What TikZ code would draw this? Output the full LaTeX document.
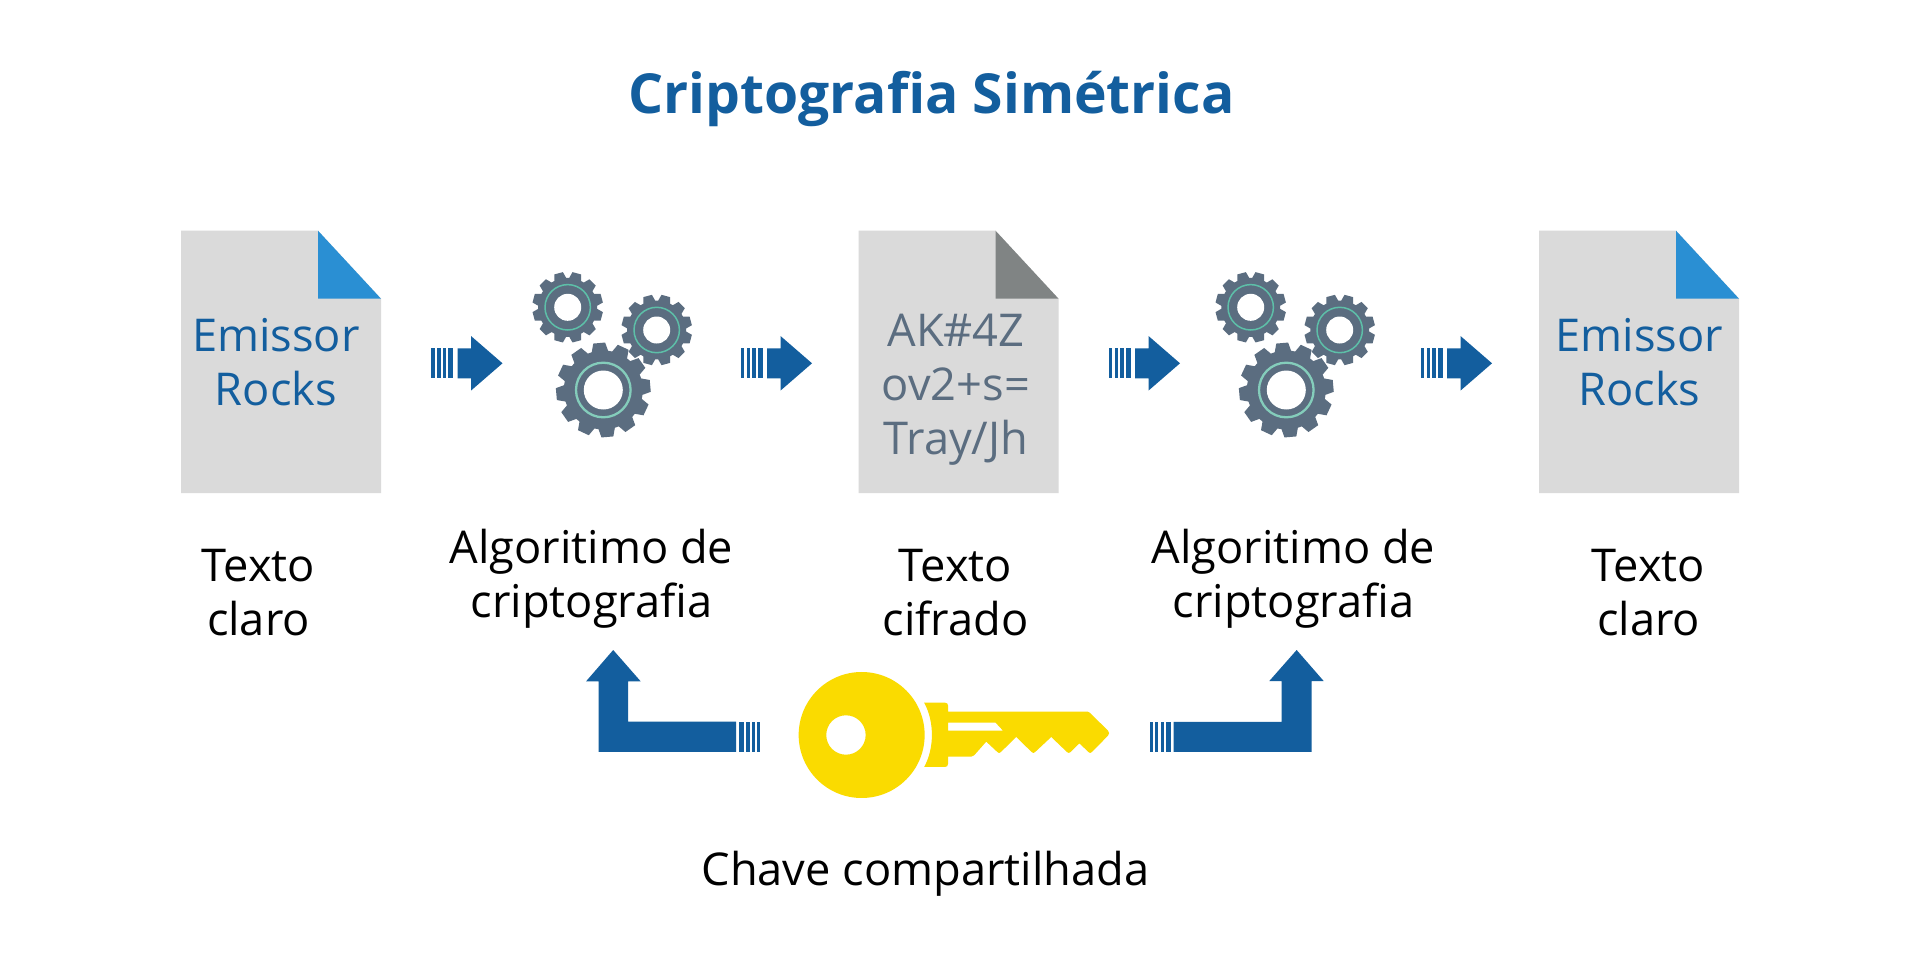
\documentclass[tikz,border=0pt]{standalone}
\usepackage{fontspec}
\setmainfont{Open Sans}
\definecolor{blueA}{HTML}{135E9E}
\definecolor{sky}{HTML}{2A8FD3}
\definecolor{paper}{HTML}{DADADA}
\definecolor{foldgray}{HTML}{808484}
\definecolor{slate}{HTML}{5B6D80}
\definecolor{ringA}{HTML}{5DBFA8}
\definecolor{ringB}{HTML}{84CDBB}
\definecolor{keyyellow}{HTML}{FADB00}
\tikzset{
  x=1pt,y=-1pt,
  lbl/.style={font=\fontsize{45.2}{54}\selectfont,align=center,inner sep=0pt,text=black},
  doctext/.style={font=\fontsize{45.2}{54}\selectfont,align=center,inner sep=0pt},
  arrowfill/.style={fill=blueA,draw=none},
}
% document sheet: x y foldcolor
\newcommand{\sheet}[3]{%
  \fill[paper] (#1,#2) -- ++(137,0) -- ++(63,68) -- ++(0,194.5) -- ++(-200,0) -- cycle;
  \fill[#3] (#1+137,#2) -- (#1+200,#2+68) -- (#1+137,#2+68) -- cycle;
}
% striped block arrow: x (stripes left) y (centre)
\newcommand{\stripearrow}[2]{%
  \begin{scope}[shift={(#1,#2)}]
    \fill[arrowfill] (0,-15) rectangle (3.8,15);
    \fill[arrowfill] (6,-15) rectangle (9.5,15);
    \fill[arrowfill] (11.7,-15) rectangle (15.2,15);
    \fill[arrowfill] (17.4,-15) rectangle (22,15);
    \fill[arrowfill] (26.5,-15) -- (40,-15) -- (40,-27.3) -- (71.5,0) -- (40,27.3) -- (40,15) -- (26.5,15) -- cycle;
  \end{scope}
}
% gear: cx cy tipR rootR holeR ringR ringWidth ringColor rotation
\newcommand{\gear}[9]{%
  \fill[slate] ({#1+#4*cos(#9-15)},{#2+#4*sin(#9-15)})
    \foreach \k in {0,...,11} {
      -- ({#1+#4*cos(#9+\k*30-12)},{#2+#4*sin(#9+\k*30-12)})
      -- ({#1+#3*cos(#9+\k*30-7.2)},{#2+#3*sin(#9+\k*30-7.2)})
      -- ({#1+#3*cos(#9+\k*30+7.2)},{#2+#3*sin(#9+\k*30+7.2)})
      -- ({#1+#4*cos(#9+\k*30+12)},{#2+#4*sin(#9+\k*30+12)})
    } -- cycle;
  \fill[white] (#1,#2) circle[radius=#5pt];
  \draw[#8,line width=#7pt] (#1,#2) circle[radius=#6pt];
}
\newcommand{\gearset}[1]{%
  \begin{scope}[shift={(#1,0)}]
    \gear{567.7}{307.3}{35.5}{29.5}{13.5}{22.7}{1.5}{ringA}{15}
    \gear{656.7}{330}{35.5}{29.5}{13.5}{22.7}{1.5}{ringA}{15}
    \gear{603.3}{390}{47.5}{39.5}{19.5}{27.3}{2.3}{ringB}{-5}
  \end{scope}
}
\begin{document}
\begin{tikzpicture}
\useasboundingbox (0,0) rectangle (1920,964);
\fill[white] (0,0) rectangle (1920,964);
\node[inner sep=0pt,text=blueA,font=\fontsize{55.2}{60}\selectfont\bfseries] (title) at (931.5,99) {Criptografia Simétrica};

\sheet{181}{230.7}{sky}
\sheet{858.5}{230.7}{foldgray}
\sheet{1539}{230.7}{sky}

\node[doctext,text=blueA] (plainA) at (275.8,362) {Emissor\\Rocks};
\node[doctext,text=slate] (cipher) at (956,390) {AK\#4Z\\ov2+s=\\Tray/Jh};
\node[doctext,text=blueA] (plainB) at (1639.5,362) {Emissor\\Rocks};

\stripearrow{431}{363.3}
\stripearrow{740.5}{363.3}
\stripearrow{1108.5}{363.3}
\stripearrow{1420.5}{363.3}

\gearset{0}
\gearset{683}

\node[lbl] (lblA) at (258.5,592.5) {Texto\\claro};
\node[lbl] (lblB) at (591.5,579) {Algoritimo de\\criptografia};
\node[lbl] (lblC) at (955.5,592.5) {Texto\\cifrado};
\node[lbl] (lblD) at (1293.5,579) {Algoritimo de\\criptografia};
\node[lbl] (lblE) at (1648.5,592.5) {Texto\\claro};
\node[lbl] (lblF) at (925.5,873.5) {Chave compartilhada};

% left bent arrow
\begin{scope}[shift={(570,640)},x=0.357pt,y=-0.3333pt]
  \fill[arrowfill] (121,30) -- (198,124) -- (163,124) -- (163,245) -- (465,245) -- (465,336) -- (80,336) -- (80,124) -- (45,124) -- cycle;
  \fill[arrowfill] (472,245) rectangle (488,336);
  \fill[arrowfill] (494,245) rectangle (503,336);
  \fill[arrowfill] (510,245) rectangle (518,336);
  \fill[arrowfill] (524,245) rectangle (532,336);
\end{scope}
% right bent arrow
\begin{scope}[shift={(1130,630)},x=0.3333pt,y=-0.3333pt]
  \fill[arrowfill] (500,60) -- (581,153) -- (545,153) -- (545,366) -- (131,366) -- (131,276) -- (455,276) -- (455,153) -- (418,153) -- cycle;
  \fill[arrowfill] (108,276) rectangle (123,366);
  \fill[arrowfill] (93,276) rectangle (101,366);
  \fill[arrowfill] (76,276) rectangle (84,366);
  \fill[arrowfill] (60,276) rectangle (69,366);
\end{scope}
% key
\begin{scope}[shift={(570,640)},x=0.357pt,y=-0.3333pt]
  \fill[keyyellow,even odd rule] (817,285) ellipse[x radius=63pt,y radius=63pt]
    (773,285) ellipse[x radius=19.7pt,y radius=19.7pt];
  \fill[keyyellow,even odd rule] (992,188) -- (1050,188) .. controls (1056,188) and (1059,191) .. (1059,197) -- (1059,215) -- (1450,215) -- (1456,218) -- (1507,272) .. controls (1511,277) and (1511,282) .. (1507,287) -- (1462,336) .. controls (1459,340) and (1455,340) .. (1452,336) -- (1427,310) -- (1402,336) .. controls (1399,340) and (1395,340) .. (1392,336) -- (1348,291) -- (1303,336) .. controls (1300,340) and (1296,340) .. (1293,336) -- (1250,291) -- (1207,336) .. controls (1204,340) and (1200,340) .. (1197,336) -- (1166,305) -- (1132,346) .. controls (1130,349) and (1128,350) .. (1124,350) -- (1059,350) -- (1059,371) .. controls (1059,378) and (1056,381) .. (1050,381) -- (992,381) .. controls (1021,325) and (1021,244) .. (992,188) -- cycle
    (1059,248) -- (1192,248) -- (1213,272) -- (1059,272) -- cycle;
\end{scope}
\end{tikzpicture}
\end{document}
